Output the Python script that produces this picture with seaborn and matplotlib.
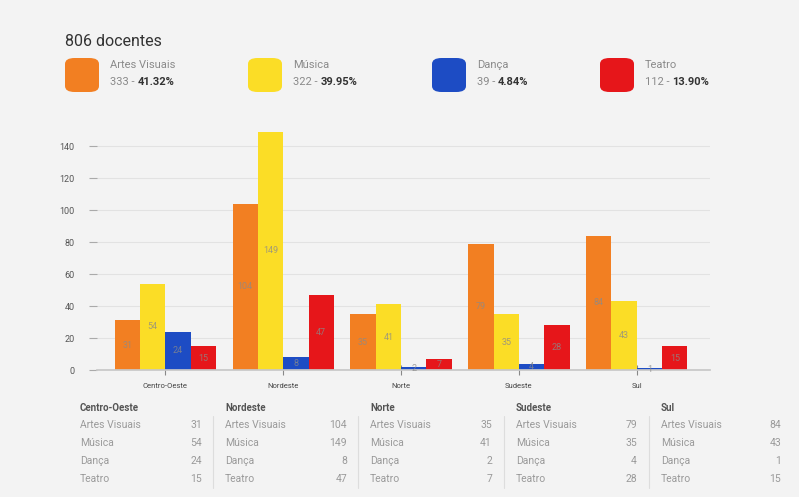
import numpy as np
import pandas as pd
import seaborn as sns
from matplotlib import pyplot as plt
from matplotlib.patches import FancyBboxPatch

regions = ['Centro-Oeste', 'Nordeste', 'Norte', 'Sudeste', 'Sul']
areas = ['Artes Visuais', 'Música', 'Dança', 'Teatro']
artes = [31, 104, 35, 79, 84]
musica = [54, 149, 41, 35, 43]
danca = [24, 8, 2, 4, 1]
teatro = [15, 47, 7, 28, 15]
yticks = [0, 20, 40, 60, 80, 100, 120, 140]
colors = ['#f27f22', '#fbdd26', '#1d4cc4', '#e6161a']

values = [artes, musica, danca, teatro]
df = pd.DataFrame({
    'regiao': regions * 4,
    'area': np.repeat(areas, 5),
    'n': np.concatenate(values),
})
totals = [sum(v) for v in values]
total = sum(totals)

sns.set_theme(style='white')
plt.rcParams['font.family'] = ['Roboto', 'DejaVu Sans']

fig = plt.figure(figsize=(7.99, 4.97), dpi=100, facecolor='#f3f3f3')
ax = fig.add_axes((0.1214, 0.2555, 0.767, 0.499))
ax.set_facecolor('none')

sns.barplot(data=df, x='regiao', y='n', hue='area', order=regions, hue_order=areas,
            palette=colors, width=0.86, gap=0, saturation=1, legend=False,
            linewidth=0, edgecolor='none', ax=ax)
for c in ax.containers:
    ax.bar_label(c, label_type='center', fontsize=6.5, color='#8a8a8a', alpha=0.8)

ax.set(xlim=(-0.58, 4.62), ylim=(0, 155), xlabel='', ylabel='')
ax.set_yticks(yticks, labels=[str(t) for t in yticks])
ax.yaxis.grid(True, color='#e2e2e2', lw=0.8)
ax.set_axisbelow(True)
sns.despine(ax=ax, left=True, top=True, right=True)
ax.spines['bottom'].set_color('#c8c8c8')
ax.tick_params(axis='y', length=6, width=0.8, color='#aaaaaa', pad=10, labelsize=6.5, labelcolor='#555555', left=True)
ax.tick_params(axis='x', length=7, width=0.8, color='#888888', direction='inout', pad=6, labelsize=5.5, labelcolor='#444444', bottom=True)

# cabeçalho / legenda
fig.text(65 / 799, 1 - 41 / 497, f'{total} docentes', fontsize=11.5, color='#333333', va='center')
leg_x = [65, 248, 432, 600]
for i, area in enumerate(areas):
    x0 = leg_x[i] / 799
    box = FancyBboxPatch((x0, 1 - 92 / 497), 34 / 799, 34 / 497, boxstyle='round,pad=0,rounding_size=0.012',
                         transform=fig.transFigure, facecolor=colors[i], edgecolor='none')
    fig.patches.append(box)
    tx = (leg_x[i] + 45) / 799
    fig.text(tx, 1 - 65 / 497, area, fontsize=8, color='#8a8a8a', va='center')
    t = fig.text(tx, 1 - 82 / 497, f'{totals[i]} - ', fontsize=8, color='#8a8a8a', va='center')
    fig.canvas.draw()
    bb = t.get_window_extent()
    fig.text(bb.x1 / fig.bbox.width, 1 - 82 / 497, f'{totals[i] / total * 100:.2f}%', fontsize=8,
             color='#333333', fontweight='bold', va='center')

# tabela inferior
col_x = [80, 225, 370, 516, 661]
val_x = [202, 347, 492, 637, 781]
row_y = [425, 443, 461, 479]
for j, reg in enumerate(regions):
    fig.text(col_x[j] / 799, 1 - 408 / 497, reg, fontsize=7, fontweight='bold', color='#555555', va='center')
    for i, area in enumerate(areas):
        fig.text(col_x[j] / 799, 1 - row_y[i] / 497, area, fontsize=7.5, color='#9a9a9a', va='center')
        fig.text(val_x[j] / 799, 1 - row_y[i] / 497, str(values[i][j]), fontsize=7.5, color='#9a9a9a',
                 va='center', ha='right')
    if j > 0:
        sx = (col_x[j] - 12) / 799
        fig.add_artist(plt.Line2D([sx, sx], [1 - 416 / 497, 1 - 488 / 497], color='#dddddd', lw=0.8))

fig.savefig('out.png', dpi=100, facecolor=fig.get_facecolor())
